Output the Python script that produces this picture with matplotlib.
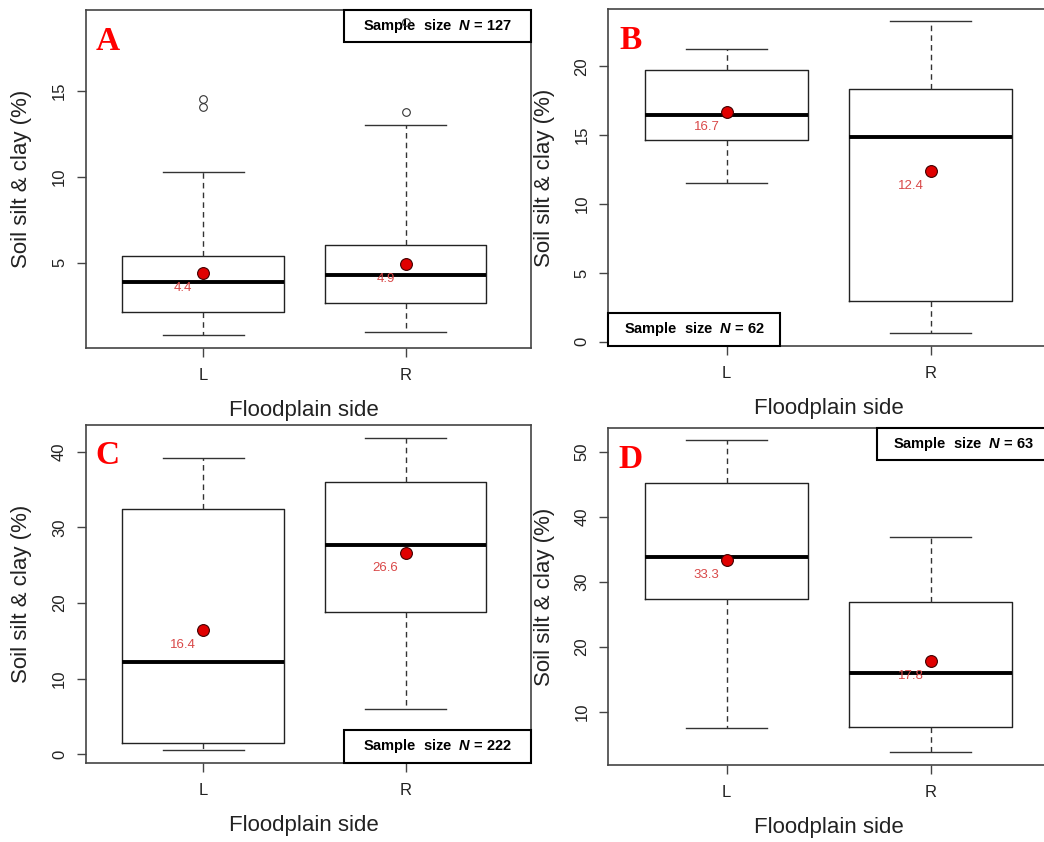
#!/usr/bin/env python
# -*- coding: utf-8 -*-
"""Soil silt & clay by floodplain side, four sites (A-D), R-style boxplots."""

import matplotlib
matplotlib.use("Agg")
import matplotlib.pyplot as plt
import matplotlib.transforms as mtransforms
from matplotlib.patches import Rectangle

plt.rcParams["font.family"] = ["Liberation Sans", "DejaVu Sans"]
plt.rcParams["mathtext.fontset"] = "custom"
plt.rcParams["mathtext.rm"] = "Liberation Sans:bold"
plt.rcParams["mathtext.it"] = "Liberation Sans:bold:italic"

# ── data ──
sides = ["L", "R"]
panel_ids = ["A", "B", "C", "D"]
sample_n = [127, 62, 222, 63]

q1_A, med_A, q3_A = [2.12, 2.63], [3.87, 4.27], [5.41, 6.02]
lo_A, hi_A, mean_A = [0.80, 0.94], [10.31, 13.02], [4.4, 4.9]
fliers_A = [[14.08, 14.57], [13.80, 19.06]]

q1_B, med_B, q3_B = [14.65, 2.98], [16.44, 14.87], [19.71, 18.33]
lo_B, hi_B, mean_B = [11.52, 0.65], [21.28, 23.29], [16.7, 12.4]
fliers_B = [[], []]

q1_C, med_C, q3_C = [1.45, 18.81], [12.20, 27.67], [32.39, 36.00]
lo_C, hi_C, mean_C = [0.61, 5.95], [39.13, 41.85], [16.4, 26.6]
fliers_C = [[], []]

q1_D, med_D, q3_D = [27.38, 7.60], [33.80, 16.00], [45.23, 26.83]
lo_D, hi_D, mean_D = [7.45, 3.85], [51.80, 36.83], [33.3, 17.8]
fliers_D = [[], []]

yticks = [[5, 10, 15], [0, 5, 10, 15, 20], [0, 10, 20, 30, 40],
          [10, 20, 30, 40, 50]]

# ── layout (pixels in a 1044x842 canvas) ──
W, H = 1044, 842
# left, top, right, bottom of each plot region
ax_px = [(85.7, 10, 531, 348), (608.3, 9.3, 1049, 346),
         (85.7, 425, 531, 762.7), (608.3, 428.3, 1049, 765)]
xlims = [(0.42, 2.62), (0.42, 2.58), (0.42, 2.62), (0.42, 2.58)]
ylims = [(0.02, 19.74), (-0.31, 24.14), (-1.11, 43.53), (1.8, 53.6)]
# sample-size box: corner, width px, height px
n_box = [("tr", 187, 32), ("bl", 172, 33), ("br", 187, 33), ("tr", 172, 32)]

FRAME = "#444444"
MEAN_TXT = "#d94848"


def stats_for(q1, med, q3, lo, hi, fl):
    return [dict(q1=q1[i], med=med[i], q3=q3[i], whislo=lo[i], whishi=hi[i],
                 fliers=fl[i]) for i in range(len(sides))]


panels = [
    (stats_for(q1_A, med_A, q3_A, lo_A, hi_A, fliers_A), mean_A),
    (stats_for(q1_B, med_B, q3_B, lo_B, hi_B, fliers_B), mean_B),
    (stats_for(q1_C, med_C, q3_C, lo_C, hi_C, fliers_C), mean_C),
    (stats_for(q1_D, med_D, q3_D, lo_D, hi_D, fliers_D), mean_D),
]

fig = plt.figure(figsize=(W / 100, H / 100), dpi=100)

for k, (stats, means) in enumerate(panels):
    l, t, r, b = ax_px[k]
    aw, ah = r - l, b - t
    ax = fig.add_axes([l / W, 1 - b / H, aw / W, ah / H])

    ax.bxp(stats, positions=[1, 2], widths=0.8, showcaps=True,
           capwidths=0.4, patch_artist=False,
           boxprops=dict(color="#222222", lw=1.0),
           medianprops=dict(color="black", lw=2.8, solid_capstyle="butt"),
           whiskerprops=dict(color="#333333", lw=1.0, ls=(0, (4, 3))),
           capprops=dict(color="#333333", lw=1.0),
           flierprops=dict(marker="o", ms=5.5, mfc="none", mec="#333333",
                           mew=0.8, zorder=6))

    ax.plot([1, 2], means, ls="none", marker="o", ms=8.5, mfc="#e00000",
            mec="#400000", mew=0.8, zorder=5)
    for xi, m in zip([1, 2], means):
        ax.annotate(f"{m:.1f}", (xi, m), xytext=(-20, -15),
                    textcoords="offset pixels", ha="center", va="center",
                    fontsize=9.5, color=MEAN_TXT, zorder=5)

    ax.set_xlim(*xlims[k])
    ax.set_ylim(*ylims[k])
    ax.set_xticks([1, 2])
    ax.set_xticklabels(sides)
    ax.set_yticks(yticks[k])
    ax.set_yticklabels([str(v) for v in yticks[k]], rotation=90, va="center")
    ax.tick_params(length=6.5, width=1.0, color=FRAME, labelsize=12,
                   labelcolor="#222222")
    ax.tick_params(axis="x", pad=8)
    ax.tick_params(axis="y", pad=7)
    for sp in ax.spines.values():
        sp.set_color(FRAME)
        sp.set_linewidth(1.2)

    ax.set_xlabel("Floodplain side", fontsize=16, color="#222222")
    ax.set_ylabel("Soil silt & clay (%)", fontsize=16, color="#222222")
    blend = mtransforms.blended_transform_factory(ax.transData, ax.transAxes)
    ax.xaxis.set_label_coords(1.5, -52 / ah, transform=blend)
    ax.yaxis.set_label_coords(-53.5 / aw, 0.5)

    # panel letter
    ax.annotate(panel_ids[k], (0, 1), xycoords="axes fraction",
                xytext=(22, -31), textcoords="offset pixels",
                ha="center", va="center", fontsize=24, fontweight="bold",
                color="red", family=["Liberation Serif", "DejaVu Serif"])

    # sample-size box
    corner, bw, bh = n_box[k]
    fw, fh = bw / aw, bh / ah
    x0 = 1 - fw if corner[1] == "r" else 0
    y0 = 1 - fh if corner[0] == "t" else 0
    ax.add_patch(Rectangle((x0, y0), fw, fh, transform=ax.transAxes,
                           fc="white", ec="black", lw=1.5, zorder=4,
                           clip_on=False))
    ax.text(x0 + fw / 2, y0 + fh / 2,
            f"Sample  size  $N$ = {sample_n[k]}", transform=ax.transAxes,
            ha="center", va="center", fontsize=10.5, fontweight="bold",
            zorder=4.5)

fig.savefig("out.png", dpi=100)
